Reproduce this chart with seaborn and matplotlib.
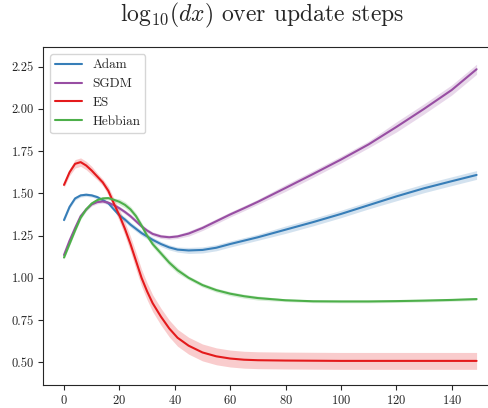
"""log10(dx) over update steps for four optimisers, mean line with a shaded band."""

import matplotlib
matplotlib.use("Agg")
import matplotlib.pyplot as plt
import pandas as pd
import seaborn as sns

STEPS = [0, 2, 4, 6, 8, 10, 12, 14, 16, 18, 20, 22, 24, 26, 28, 30, 32, 35, 38,
         41, 45, 50, 55, 60, 65, 70, 80, 90, 100, 110, 120, 130, 140, 149]

ADAM = [1.342, 1.42, 1.47, 1.488, 1.492, 1.488, 1.478, 1.46, 1.442, 1.405, 1.37,
        1.345, 1.315, 1.29, 1.265, 1.245, 1.225, 1.20, 1.18, 1.167, 1.162, 1.165,
        1.178, 1.200, 1.220, 1.24, 1.285, 1.33, 1.378, 1.43, 1.482, 1.53, 1.572, 1.609]
SGDM = [1.135, 1.22, 1.295, 1.365, 1.405, 1.435, 1.448, 1.452, 1.445, 1.43, 1.412,
        1.39, 1.365, 1.335, 1.305, 1.28, 1.26, 1.245, 1.24, 1.245, 1.262, 1.295,
        1.335, 1.375, 1.412, 1.45, 1.532, 1.615, 1.70, 1.79, 1.893, 2.0, 2.112, 2.235]
ES = [1.55, 1.625, 1.675, 1.685, 1.665, 1.635, 1.60, 1.565, 1.515, 1.44, 1.37,
      1.29, 1.20, 1.10, 1.00, 0.92, 0.85, 0.77, 0.70, 0.645, 0.598, 0.558, 0.535,
      0.522, 0.515, 0.512, 0.51, 0.509, 0.508, 0.508, 0.508, 0.508, 0.508, 0.508]
HEBBIAN = [1.12, 1.20, 1.28, 1.355, 1.405, 1.44, 1.46, 1.47, 1.472, 1.462, 1.45,
           1.432, 1.405, 1.365, 1.31, 1.25, 1.20, 1.145, 1.09, 1.045, 1.0, 0.957,
           0.927, 0.906, 0.891, 0.88, 0.867, 0.861, 0.86, 0.86, 0.862, 0.865,
           0.869, 0.874]

# half-width of the shaded band at each step
ADAM_SPREAD = [0.01] * 10 + [0.015] * 10 + [0.018] * 6 + [0.022] * 4 + [0.026] * 4
SGDM_SPREAD = [0.01] * 10 + [0.012] * 10 + [0.015] * 6 + [0.02] * 4 + [0.03] * 4
ES_SPREAD = [0.015, 0.02, 0.025, 0.025, 0.025, 0.025, 0.02, 0.02, 0.025, 0.03,
             0.035, 0.04, 0.045, 0.05, 0.05, 0.05, 0.05, 0.05, 0.05, 0.05, 0.05,
             0.05, 0.05, 0.05, 0.05, 0.05, 0.05, 0.05, 0.05, 0.05, 0.05, 0.05,
             0.05, 0.05]
HEBBIAN_SPREAD = [0.01] * 10 + [0.018] * 10 + [0.012] * 6 + [0.008] * 8

SERIES = ["Adam", "SGDM", "ES", "Hebbian"]
COLORS = ["#377eb8", "#984ea3", "#e41a1c", "#4daf4a"]


def main() -> None:
    sns.set_style("ticks")
    plt.rcParams["font.family"] = "serif"
    plt.rcParams["font.serif"] = ["cmr10"]
    plt.rcParams["mathtext.fontset"] = "cm"
    plt.rcParams["axes.formatter.use_mathtext"] = True
    plt.rcParams["axes.unicode_minus"] = False

    means = {"Adam": ADAM, "SGDM": SGDM, "ES": ES, "Hebbian": HEBBIAN}
    spreads = {"Adam": ADAM_SPREAD, "SGDM": SGDM_SPREAD, "ES": ES_SPREAD,
               "Hebbian": HEBBIAN_SPREAD}
    df = pd.DataFrame(
        [(s, m, name) for name in SERIES for s, m in zip(STEPS, means[name])],
        columns=["step", "value", "method"],
    )

    fig = plt.figure(figsize=(4.88, 4.08), dpi=100)
    ax = fig.add_axes([0.0889, 0.0571, 0.930, 0.827])

    for name, color in zip(SERIES, COLORS):
        lo = [m - s for m, s in zip(means[name], spreads[name])]
        hi = [m + s for m, s in zip(means[name], spreads[name])]
        ax.fill_between(STEPS, lo, hi, color=color, alpha=0.22, linewidth=0)

    sns.lineplot(data=df, x="step", y="value", hue="method", hue_order=SERIES,
                 palette=COLORS, linewidth=1.5, ax=ax)

    ax.set_xlim(-7.45, 156.45)
    ax.set_ylim(0.367, 2.365)
    ax.set_xticks([0, 20, 40, 60, 80, 100, 120, 140])
    ax.set_yticks([0.5, 0.75, 1.0, 1.25, 1.5, 1.75, 2.0, 2.25])
    ax.set_yticklabels(["0.50", "0.75", "1.00", "1.25", "1.50", "1.75", "2.00", "2.25"])
    ax.set_xlabel("")
    ax.set_ylabel("")
    ax.tick_params(labelsize=9)
    ax.legend(loc="upper left", fontsize=9.5, title=None)

    fig.text(0.537, 0.961, r"$\mathrm{log}_{10}(dx)$ over update steps",
             ha="center", va="center", fontsize=17)

    fig.savefig("out.png", dpi=100)
    plt.close(fig)


if __name__ == "__main__":
    main()
